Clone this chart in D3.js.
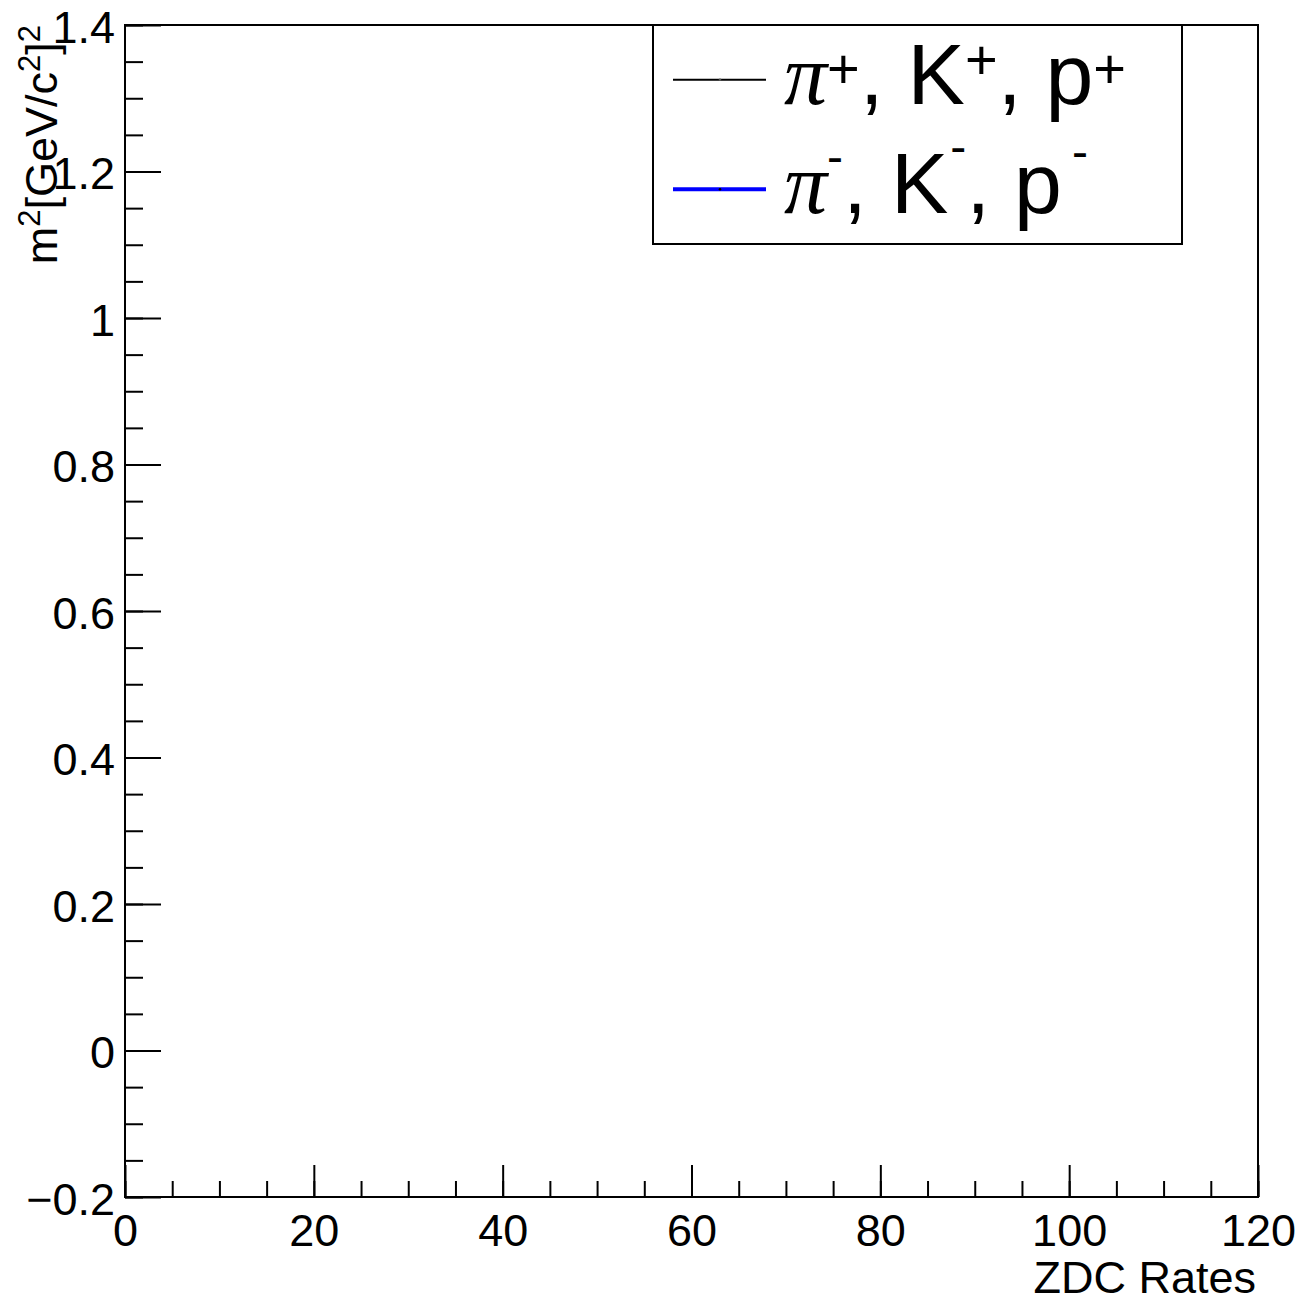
<!DOCTYPE html>
<html><head><meta charset="utf-8">
<script src="https://cdn.jsdelivr.net/npm/d3@7"></script>
<style>html,body{margin:0;padding:0;background:#fff;} svg{display:block;}</style>
</head><body>
<svg id="c" width="1302" height="1305"></svg>
<script>
// ---- data ----
const xDomain = [0, 120];
const yDomain = [-0.2, 1.4];
const xTickValues = [0, 20, 40, 60, 80, 100, 120];
const xTickLabels = ["0", "20", "40", "60", "80", "100", "120"];
const yTickValues = [-0.2, 0, 0.2, 0.4, 0.6, 0.8, 1.0, 1.2, 1.4];
const yTickLabels = ["\u22120.2", "0", "0.2", "0.4", "0.6", "0.8", "1", "1.2", "1.4"];
const xTitle = "ZDC Rates";
const legendParticles = ["\u03c0", "K", "p"];
const legendCharges = ["+", "-"];
const seriesPositive = [];   // no points visible in the frame
const seriesNegative = [];

// ---- styles / layout ----
const seriesColors = ["#000000", "#0000ff"];
const seriesWidths = [2, 4];
const FONT = "'Liberation Sans', Arial, Helvetica, sans-serif";
const frame = {left: 125, right: 1258, top: 25, bottom: 1197};
// superscript raise per particle (px) for + and - rows
const supRaise = {"+": [16, 25, 16], "-": [40, 50, 45]};
const supSize = {"+": 56, "-": 48};
const supGapBefore = {"+": [0, 0, 0], "-": [0, 2, 10]};

const svg = d3.select("#c");
svg.append("rect").attr("width", 1302).attr("height", 1305).attr("fill", "#fff");

const x = d3.scaleLinear().domain(xDomain).range([frame.left, frame.right]);
const y = d3.scaleLinear().domain(yDomain).range([frame.bottom, frame.top]);

// data layers (empty)
const line = d3.line().x(d => x(d[0])).y(d => y(d[1]));
[seriesPositive, seriesNegative].forEach((s, i) => {
  if (s.length) svg.append("path").attr("d", line(s)).attr("fill", "none")
    .attr("stroke", seriesColors[i]).attr("stroke-width", 2);
});

function styleAxis(g) {
  g.select(".domain").remove();
  g.selectAll(".tick line").attr("stroke", "#000").attr("stroke-width", 2);
  g.attr("font-family", FONT).attr("font-size", 45);
  g.selectAll(".tick text").attr("fill", "#000");
}

// minor ticks
svg.append("g").attr("transform", `translate(${frame.left},0)`)
  .call(d3.axisLeft(y).tickValues(d3.range(-0.2, 1.4001, 0.05)).tickSizeInner(-18).tickSizeOuter(0).tickFormat(""))
  .call(styleAxis);
svg.append("g").attr("transform", `translate(0,${frame.bottom})`)
  .call(d3.axisBottom(x).tickValues(d3.range(0, 120.001, 5)).tickSizeInner(-16).tickSizeOuter(0).tickFormat(""))
  .call(styleAxis);

// major ticks
const yAxisG = svg.append("g").attr("transform", `translate(${frame.left},0)`)
  .call(d3.axisLeft(y).tickValues(yTickValues).tickSizeInner(-36).tickSizeOuter(0).tickPadding(10)
    .tickFormat((d, i) => yTickLabels[i]))
  .call(styleAxis);
yAxisG.selectAll(".tick text").attr("dy", "0.38em");

const xAxisG = svg.append("g").attr("transform", `translate(0,${frame.bottom})`)
  .call(d3.axisBottom(x).tickValues(xTickValues).tickSizeInner(-32).tickSizeOuter(0).tickPadding(17)
    .tickFormat((d, i) => xTickLabels[i]))
  .call(styleAxis);

// frame
svg.append("rect").attr("x", frame.left).attr("y", frame.top)
  .attr("width", frame.right - frame.left).attr("height", frame.bottom - frame.top)
  .attr("fill", "none").attr("stroke", "#000").attr("stroke-width", 2);

// axis titles
svg.append("text").attr("x", 1256).attr("y", 1293).attr("text-anchor", "end")
  .attr("font-family", FONT).attr("font-size", 45).attr("fill", "#000").text(xTitle);

const yt = svg.append("text").attr("transform", "translate(57,25) rotate(-90)")
  .attr("text-anchor", "end").attr("font-family", FONT).attr("font-size", 45).attr("fill", "#000");
const yTitleParts = [["m", 0], ["2", 1], ["[GeV/c", 0], ["2", 1], ["]", 0], ["2", 1]];
let prevSup = false;
yTitleParts.forEach(([t, sup]) => {
  const ts = yt.append("tspan").text(t);
  if (sup) ts.attr("font-size", 31);
  if (sup && !prevSup) ts.attr("dy", -17);
  else if (!sup && prevSup) ts.attr("dy", 17);
  prevSup = !!sup;
});

// legend
const leg = {x: 653, y: 25, w: 529, h: 219};
svg.append("rect").attr("x", leg.x).attr("y", leg.y).attr("width", leg.w).attr("height", leg.h)
  .attr("fill", "#fff").attr("stroke", "#000").attr("stroke-width", 2);

legendCharges.forEach((ch, r) => {
  const cy = leg.y + leg.h * (r * 2 + 1) / 4;
  svg.append("line").attr("x1", 673).attr("x2", 766).attr("y1", cy).attr("y2", cy)
    .attr("stroke", seriesColors[r]).attr("stroke-width", seriesWidths[r]);
  svg.append("circle").attr("cx", 720).attr("cy", cy).attr("r", 1.3).attr("fill", r ? "#000" : "#555");
  const t = svg.append("text").attr("x", 784).attr("y", cy + 24)
    .attr("font-family", FONT).attr("font-size", 86).attr("fill", "#000");
  legendParticles.forEach((p, j) => {
    const base = t.append("tspan").text(p);
    if (p === "\u03c0") base.attr("font-family", "'Liberation Serif', 'DejaVu Serif', serif").attr("font-style", "italic");
    t.append("tspan").text(ch).attr("font-size", supSize[ch])
      .attr("dy", -supRaise[ch][j]).attr("dx", supGapBefore[ch][j]);
    if (j < legendParticles.length - 1) {
      t.append("tspan").text(", ").attr("dy", supRaise[ch][j]);
    }
  });
});
</script>
</body></html>
